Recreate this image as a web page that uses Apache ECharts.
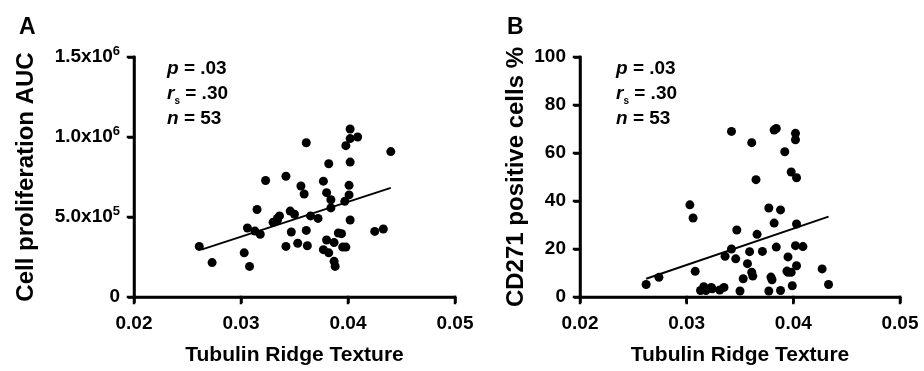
<!DOCTYPE html>
<html>
<head>
<meta charset="utf-8">
<script src="https://cdn.jsdelivr.net/npm/echarts@6/dist/echarts.min.js"></script>
<style>
  html, body { margin: 0; padding: 0; background: #fff; }
  #main { width: 924px; height: 371px; }
</style>
</head>
<body>
<div id="main"></div>
<script>
// panel A: tubulin ridge texture vs cell proliferation AUC
var texA = [0.0261, 0.0273, 0.0303, 0.0308, 0.0306, 0.0313, 0.0318, 0.0315, 0.0323, 0.0330,
            0.0334, 0.0336, 0.0342, 0.0342, 0.0347, 0.0346, 0.0350, 0.0353, 0.0356, 0.0359,
            0.0361, 0.0361, 0.0362, 0.0365, 0.0372, 0.0377, 0.0380, 0.0382, 0.0384, 0.0384,
            0.0377, 0.0382, 0.0380, 0.0387, 0.0388, 0.0387, 0.0391, 0.0394, 0.0395, 0.0398,
            0.0397, 0.0398, 0.0401, 0.0401, 0.0402, 0.0402, 0.0402, 0.0409, 0.0402, 0.0425,
            0.0433, 0.0440, 0.0334];
var aucA = [316000, 215000, 276000, 191000, 431000, 412000, 392000, 547000, 728000, 467000,
            491000, 507000, 755000, 316000, 406000, 537000, 517000, 336000, 694000, 644000,
            964000, 416000, 320000, 507000, 491000, 724000, 652000, 833000, 608000, 557000,
            296000, 276000, 356000, 223000, 191000, 340000, 400000, 396000, 312000, 312000,
            598000, 946000, 638000, 698000, 843000, 1050000, 990000, 1000000, 481000, 410000,
            425000, 909000, 480000];
var fitXA = [0.0263, 0.0440];
var fitYA = [296000, 682000];

// panel B: tubulin ridge texture vs CD271 positive cells %
var texB = [0.0262, 0.0274, 0.0303, 0.0306, 0.0308, 0.0313, 0.0316, 0.0318, 0.0323, 0.0331,
            0.0335, 0.0336, 0.0342, 0.0342, 0.0346, 0.0347, 0.0350, 0.0353, 0.0357, 0.0359,
            0.0361, 0.0362, 0.0361, 0.0365, 0.0366, 0.0371, 0.0377, 0.0377, 0.0379, 0.0380,
            0.0382, 0.0382, 0.0384, 0.0384, 0.0388, 0.0388, 0.0392, 0.0395, 0.0395, 0.0398,
            0.0398, 0.0399, 0.0402, 0.0402, 0.0402, 0.0403, 0.0403, 0.0403, 0.0409, 0.0427,
            0.0433, 0.0324, 0.0394];
var cd271B = [5.2, 8.2, 38.4, 32.9, 10.7, 2.7, 4.3, 2.7, 4.0, 2.9,
              4.0, 17.0, 69.0, 20.0, 15.9, 27.9, 2.5, 7.6, 13.9, 18.9,
              10.3, 8.7, 64.3, 48.9, 26.1, 19.0, 37.1, 2.5, 8.3, 7.2,
              30.8, 69.6, 70.2, 20.8, 36.3, 2.7, 60.5, 16.7, 10.3, 52.1,
              10.3, 4.7, 68.2, 65.5, 21.4, 49.7, 30.4, 13.0, 21.0, 11.7,
              5.2, 3.4, 10.8];
var fitXB = [0.0262, 0.0433];
var fitYB = [7.6, 33.5];

// ticks: values and labels
var xTickVals = [0.02, 0.03, 0.04, 0.05];
var xTicks = ['0.02', '0.03', '0.04', '0.05'];
var yTickValsA = [0, 500000, 1000000, 1500000];
var yTicksA = ['0', '5.0x10^5', '1.0x10^6', '1.5x10^6'];
var yTickValsB = [0, 20, 40, 60, 80, 100];
var yTicksB = ['0', '20', '40', '60', '80', '100'];

var FONT = 'Arial, "Liberation Sans", Helvetica, sans-serif';

function pairs(xs, ys) {
    var out = [];
    for (var i = 0; i < xs.length; i++) out.push([xs[i], ys[i]]);
    return out;
}

function supLabel(s) {
    var m = s.split('^');
    if (m.length < 2) return '{b|' + s + '}';
    return '{b|' + m[0] + '}{sup|' + m[1] + '}';
}

function boldRich() {
    return {
        b: { fontSize: 19, fontWeight: 'bold', fontFamily: FONT, color: '#000', lineHeight: 24 },
        sup: { fontSize: 13, fontWeight: 'bold', fontFamily: FONT, color: '#000', lineHeight: 13, verticalAlign: 'top' }
    };
}

function axisLine() {
    return { show: true, lineStyle: { color: '#000', width: 2.5 } };
}
function axisTick() {
    return { show: true, length: 6, lineStyle: { color: '#000', width: 2.5 } };
}

function xAxisFor(gridIndex) {
    return {
        gridIndex: gridIndex,
        type: 'value',
        min: xTickVals[0], max: xTickVals[xTickVals.length - 1], interval: xTickVals[1] - xTickVals[0],
        name: 'Tubulin Ridge Texture',
        nameLocation: 'middle',
        nameGap: 48,
        nameTextStyle: { fontSize: 21, fontWeight: 'bold', fontFamily: FONT, color: '#000' },
        axisLine: axisLine(),
        axisTick: axisTick(),
        splitLine: { show: false },
        axisLabel: {
            margin: 15,
            rich: boldRich(),
            formatter: function (v, i) { return '{b|' + xTicks[i] + '}'; }
        }
    };
}

function yAxisFor(gridIndex, vals, name, gap, labels) {
    return {
        gridIndex: gridIndex,
        type: 'value',
        min: vals[0], max: vals[vals.length - 1], interval: vals[1] - vals[0],
        name: name,
        nameLocation: 'middle',
        nameGap: gap,
        nameTextStyle: { fontSize: 24, fontWeight: 'bold', fontFamily: FONT, color: '#000' },
        axisLine: axisLine(),
        axisTick: axisTick(),
        splitLine: { show: false },
        axisLabel: {
            margin: 14,
            rich: boldRich(),
            formatter: function (v, i) { return supLabel(labels[i]); }
        }
    };
}

function statsStyle() {
    return {
        fontSize: 19, fontWeight: 'bold', fontFamily: FONT, color: '#000', lineHeight: 25,
        rich: {
            t: { fontSize: 19, fontWeight: 'bold', fontFamily: FONT, color: '#000', lineHeight: 25 },
            i: { fontSize: 19, fontWeight: 'bold', fontStyle: 'italic', fontFamily: FONT, color: '#000', lineHeight: 25 },
            s: { fontSize: 10, fontWeight: 'bold', fontFamily: FONT, color: '#000', lineHeight: 10, verticalAlign: 'bottom' }
        }
    };
}
var statsText = '{i|p}{t| = .03}\n{i|r}{s|s}{t| = .30}\n{i|n}{t| = 53}';

var myChart = echarts.init(document.getElementById('main'));

var option = {
    backgroundColor: '#fff',
    animation: false,
    title: [
        { text: 'A', left: 14, top: 11, textStyle: { fontSize: 23, fontWeight: 'bold', fontFamily: FONT, color: '#000' } },
        { text: 'B', left: 502, top: 11, textStyle: { fontSize: 23, fontWeight: 'bold', fontFamily: FONT, color: '#000' } },
        { text: statsText, left: 162, top: 51, textStyle: statsStyle() },
        { text: statsText, left: 611, top: 51, textStyle: statsStyle() }
    ],
    grid: [
        { left: 134, right: 469, top: 57, bottom: 65 },
        { left: 580, right: 24, top: 57, bottom: 65 }
    ],
    xAxis: [xAxisFor(0), xAxisFor(1)],
    yAxis: [
        yAxisFor(0, yTickValsA, 'Cell proliferation AUC', 96, yTicksA),
        yAxisFor(1, yTickValsB, 'CD271 positive cells %', 52, yTicksB)
    ],
    series: [
        {
            type: 'scatter', xAxisIndex: 0, yAxisIndex: 0,
            symbolSize: 9, itemStyle: { color: '#000', opacity: 1 },
            data: pairs(texA, aucA)
        },
        {
            type: 'line', xAxisIndex: 0, yAxisIndex: 0,
            symbol: 'none', lineStyle: { color: '#000', width: 2 },
            data: pairs(fitXA, fitYA)
        },
        {
            type: 'scatter', xAxisIndex: 1, yAxisIndex: 1,
            symbolSize: 9, itemStyle: { color: '#000', opacity: 1 },
            data: pairs(texB, cd271B)
        },
        {
            type: 'line', xAxisIndex: 1, yAxisIndex: 1,
            symbol: 'none', lineStyle: { color: '#000', width: 2 },
            data: pairs(fitXB, fitYB)
        }
    ]
};

myChart.setOption(option);

// the axis lines/ticks did not show up in this layout, so draw the frame
// again as graphic lines placed with the chart's own axis scales
function seg(x1, y1, x2, y2) {
    return {
        type: 'line', z: 50, silent: true,
        shape: { x1: x1, y1: y1, x2: x2, y2: y2 },
        style: { stroke: '#000', lineWidth: 2.5, lineCap: 'square' }
    };
}

function frameFor(gi, xVals, yVals) {
    var f = { xAxisIndex: gi, yAxisIndex: gi };
    var xMin = xVals[0], xMax = xVals[xVals.length - 1];
    var yMin = yVals[0], yMax = yVals[yVals.length - 1];
    var o = myChart.convertToPixel(f, [xMin, yMin]);
    var top = myChart.convertToPixel(f, [xMin, yMax]);
    var end = myChart.convertToPixel(f, [xMax, yMin]);
    var els = [seg(o[0], o[1], o[0], top[1]), seg(o[0], o[1], end[0], o[1])];
    xVals.forEach(function (v) {
        var p = myChart.convertToPixel(f, [v, yMin]);
        els.push(seg(p[0], o[1], p[0], o[1] + 6));
    });
    yVals.forEach(function (v) {
        var p = myChart.convertToPixel(f, [xMin, v]);
        els.push(seg(o[0] - 6, p[1], o[0], p[1]));
    });
    return els;
}

myChart.setOption({
    graphic: frameFor(0, xTickVals, yTickValsA).concat(frameFor(1, xTickVals, yTickValsB))
});

window.onresize = function () {
    myChart.resize();
};
</script>
</body>
</html>
